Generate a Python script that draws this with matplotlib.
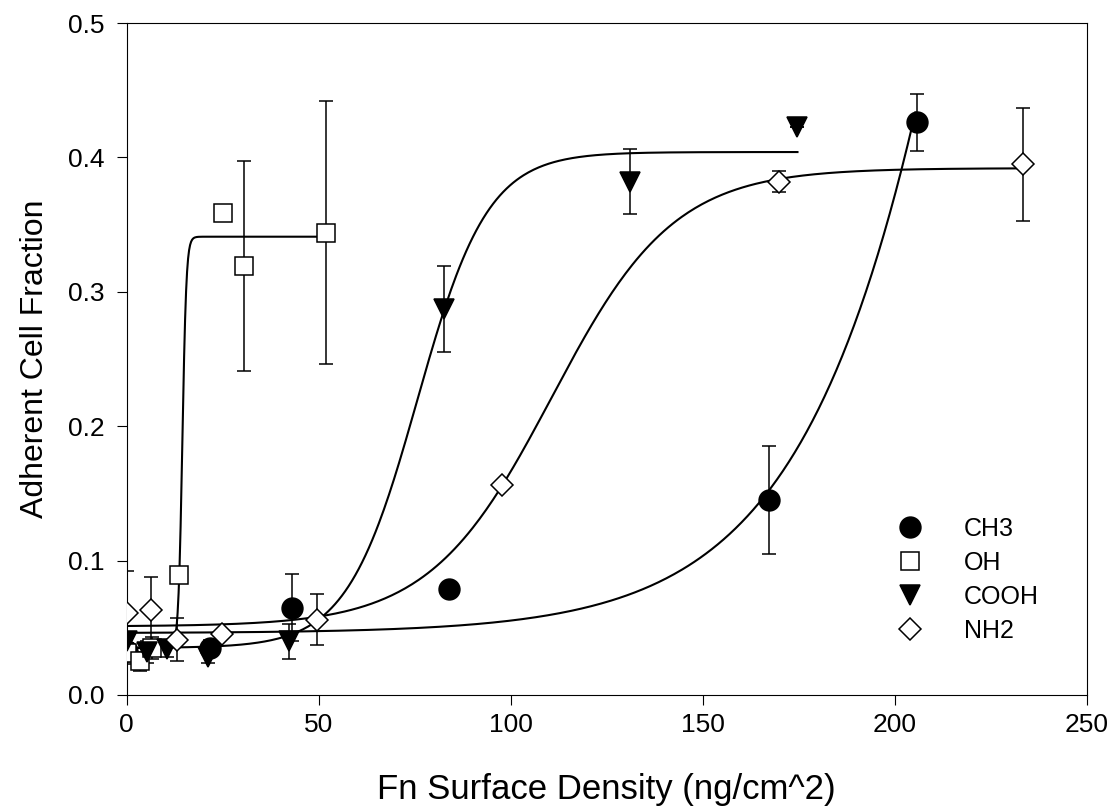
import numpy as np
import matplotlib
matplotlib.use("Agg")
import matplotlib.pyplot as plt

plt.rcParams['font.family'] = ['Liberation Sans', 'DejaVu Sans']

# measured points (x = Fn surface density, y = adherent fraction, e = error)
ch3_x = [0, 21.6, 43.0, 83.9, 167.3, 205.7]
ch3_y = [0.033, 0.035, 0.065, 0.079, 0.145, 0.426]
ch3_e = [0.006, 0.006, 0.025, 0.0, 0.040, 0.021]

oh_x = [0, 3.5, 6.6, 13.7, 25.0, 30.5, 52.0]
oh_y = [0.031, 0.025, 0.035, 0.089, 0.359, 0.319, 0.344]
oh_e = [0.008, 0.007, 0.008, 0.0, 0.0, 0.078, 0.098]

cooh_x = [0, 5.4, 10.4, 21.3, 42.2, 82.6, 131.2, 174.5]
cooh_y = [0.040, 0.032, 0.034, 0.028, 0.040, 0.287, 0.382, 0.423]
cooh_e = [0.006, 0.008, 0.006, 0.004, 0.013, 0.032, 0.024, 0.0]

nh2_x = [0, 6.3, 13.1, 24.8, 49.6, 97.8, 169.9, 233.5]
nh2_y = [0.061, 0.063, 0.041, 0.045, 0.056, 0.156, 0.382, 0.395]
nh2_e = [0.031, 0.025, 0.016, 0.0, 0.019, 0.0, 0.008, 0.042]

# sigmoid fit parameters: base, amplitude, midpoint, slope, x range
ch3_fit = (0.046, 3.0, 257.5, 27.3, 0, 205.4)
oh_fit = (0.035, 0.306, 14.5, 0.52, 0, 51.9)
cooh_fit = (0.035, 0.369, 75.7, 9.18, 0, 174.7)
nh2_fit = (0.051, 0.341, 110.7, 15.9, 0, 233.5)


def sigmoid_curve(p):
    y0, a, x0, b, xa, xb = p
    x = np.linspace(xa, xb, 400)
    return x, y0 + a / (1 + np.exp(-(x - x0) / b))


fig = plt.figure(figsize=(11.13, 8.08), dpi=100)
ax = fig.add_axes([0.1138, 0.1399, 0.8625, 0.8316])

for p in [ch3_fit, oh_fit, cooh_fit, nh2_fit]:
    cx, cy = sigmoid_curve(p)
    ax.plot(cx, cy, color='black', lw=1.5, zorder=2)

series = [
    (ch3_x, ch3_y, ch3_e, 'o', 'black', 15, 'CH3'),
    (oh_x, oh_y, oh_e, 's', 'white', 12.5, 'OH'),
    (cooh_x, cooh_y, cooh_e, 'v', 'black', 14, 'COOH'),
    (nh2_x, nh2_y, nh2_e, 'D', 'white', 11.5, 'NH2'),
]
for x, y, e, m, fc, ms, lab in series:
    ax.errorbar(x, y, yerr=e, fmt='none', ecolor='black', elinewidth=1.1,
                capsize=4.7, capthick=1.1, zorder=3)
    ax.plot(x, y, linestyle='none', marker=m, markersize=ms,
            markerfacecolor=fc, markeredgecolor='black', markeredgewidth=1.1,
            label=lab, zorder=4)

ax.set_xlim(0, 250)
ax.set_ylim(0, 0.5)
ax.set_xticks([0, 50, 100, 150, 200, 250])
ax.set_yticks([0.0, 0.1, 0.2, 0.3, 0.4, 0.5])
ax.set_yticklabels(['0.0', '0.1', '0.2', '0.3', '0.4', '0.5'])
ax.tick_params(direction='out', length=7, width=0.8, labelsize=19)
ax.tick_params(axis='y', pad=9)
ax.tick_params(axis='x', pad=6)
for s in ax.spines.values():
    s.set_linewidth(0.8)

ax.set_xlabel('Fn Surface Density (ng/cm^2)', fontsize=25, labelpad=26)
ax.set_ylabel('Adherent Cell Fraction', fontsize=23, labelpad=13)

ax.legend(loc='lower left', bbox_to_anchor=(0.797, 0.077), frameon=False,
          fontsize=18, handlelength=1.5, handletextpad=1.4, labelspacing=0.4,
          borderpad=0, borderaxespad=0)

fig.savefig('out.png', dpi=100)
